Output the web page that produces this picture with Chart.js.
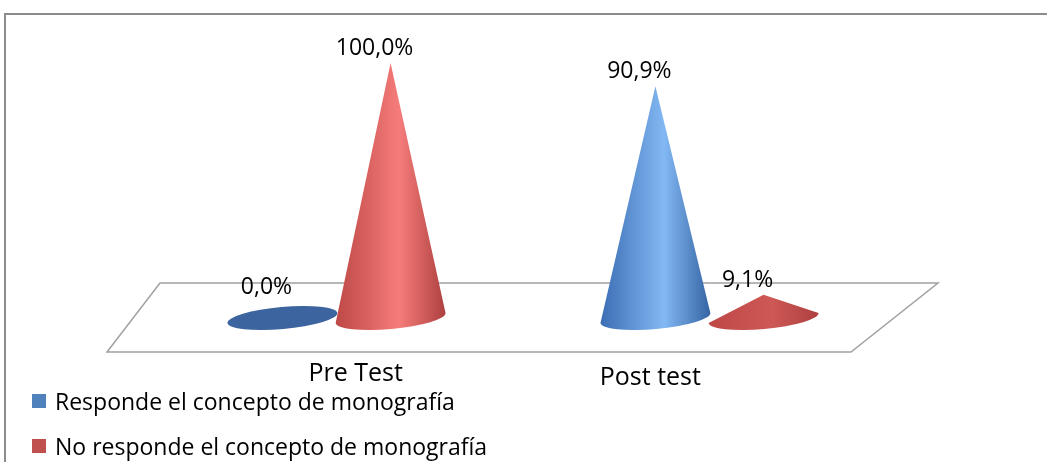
<!DOCTYPE html>
<html>
<head>
<meta charset="utf-8">
<script src="https://cdn.jsdelivr.net/npm/chart.js@4.4.0/dist/chart.umd.min.js"></script>
<style>
  body { margin: 0; background: #fff; }
  canvas { display: block; }
</style>
</head>
<body>
<canvas id="myChart" width="1047" height="462"></canvas>
<script>
// datos
const categorias = ['Pre Test', 'Post test'];
const responde = [0, 90.9];
const noResponde = [100, 9.1];
const series = ['Responde el concepto de monografía', 'No responde el concepto de monografía'];
const colores = ['#4f81bd', '#c0504d'];

// tonos de los conos: borde izq, brillo, borde der, base plana, brillo apagado
const tonos = [
  ['#3b6db3', '#82b8f3', '#3463a3', '#3c649e', '#4a78b5'],
  ['#bd4846', '#f57c7a', '#ad403f', '#b84745', '#cd5855']
];
const fuente = '"Open Sans", sans-serif';
const giro = -0.09; // inclinacion de las bases

function formato(v) {
  return v.toFixed(1).replace('.', ',') + '%';
}

function cono(ctx, cx, top, base, w, t, alto) {
  const rx = w / 2, ry = w * 0.1;
  if (base - top < 1) {
    ctx.fillStyle = t[3];
    ctx.beginPath();
    ctx.ellipse(cx, base, rx, ry, giro, 0, Math.PI * 2);
    ctx.fill();
    return;
  }
  const g = ctx.createLinearGradient(cx - rx, 0, cx + rx, 0);
  g.addColorStop(0, t[0]);
  g.addColorStop(0.58, (base - top) > alto * 0.3 ? t[1] : t[4]);
  g.addColorStop(1, t[2]);
  ctx.fillStyle = g;
  ctx.beginPath();
  ctx.moveTo(cx, top);
  ctx.lineTo(cx - rx * Math.cos(giro), base - rx * Math.sin(giro));
  ctx.ellipse(cx, base, rx, ry, giro, Math.PI, 0, true);
  ctx.closePath();
  ctx.fill();
}

const conos = {
  id: 'conos',
  beforeDraw(chart) {
    const ctx = chart.ctx;
    ctx.save();
    ctx.strokeStyle = '#8c8c8c';
    ctx.lineWidth = 2;
    ctx.beginPath();
    ctx.moveTo(5, chart.height);
    ctx.lineTo(5, 14);
    ctx.lineTo(chart.width, 14);
    ctx.stroke();
    ctx.restore();
  },
  beforeDatasetsDraw(chart) {
    // piso en perspectiva
    const a = chart.chartArea;
    const ctx = chart.ctx;
    ctx.save();
    ctx.strokeStyle = '#a0a0a0';
    ctx.lineWidth = 1.5;
    ctx.fillStyle = '#ffffff';
    ctx.beginPath();
    ctx.moveTo(a.left + 10, a.bottom - 35);
    ctx.lineTo(a.right + 42, a.bottom - 35);
    ctx.lineTo(a.right - 45, a.bottom + 34);
    ctx.lineTo(a.left - 43, a.bottom + 34);
    ctx.closePath();
    ctx.fill();
    ctx.stroke();
    ctx.restore();
  },
  afterDatasetsDraw(chart) {
    const ctx = chart.ctx;
    const a = chart.chartArea;
    const x = chart.scales.x;
    ctx.save();
    chart.data.datasets.forEach((ds, d) => {
      const meta = chart.getDatasetMeta(d);
      meta.data.forEach((bar, i) => {
        cono(ctx, bar.x, bar.y, bar.base, bar.width * 1.02, tonos[d], a.bottom - a.top);
      });
    });
    // etiquetas de valores
    ctx.font = '23px ' + fuente;
    ctx.fillStyle = '#000';
    ctx.textAlign = 'center';
    ctx.textBaseline = 'bottom';
    chart.data.datasets.forEach((ds, d) => {
      const meta = chart.getDatasetMeta(d);
      meta.data.forEach((bar, i) => {
        const ry = bar.width * 0.1;
        const y = Math.min(bar.y - 3, bar.base - ry - 8);
        ctx.fillText(formato(ds.data[i]), bar.x - 16, y);
      });
    });
    // categorias sobre el borde frontal del piso
    ctx.font = '25px ' + fuente;
    const mid = (a.left + a.right) / 2;
    categorias.forEach((c, i) => {
      const cx = x.getPixelForValue(i);
      const lx = mid - 20 + (cx - mid) * 0.79;
      ctx.fillText(c, lx, a.bottom + 68 + i * 4);
    });
    // leyenda
    ctx.font = '23px ' + fuente;
    ctx.textAlign = 'left';
    ctx.textBaseline = 'alphabetic';
    series.forEach((s, d) => {
      const y = 410 + d * 45;
      ctx.fillStyle = colores[d];
      ctx.fillRect(32, y - 16, 14, 14);
      ctx.fillStyle = '#000';
      ctx.fillText(s, 55, y);
    });
    ctx.restore();
  }
};

const myChart = document.getElementById('myChart');
new Chart(myChart, {
  type: 'bar',
  data: {
    labels: categorias,
    datasets: [
      { label: series[0], data: responde, backgroundColor: 'rgba(0,0,0,0)' },
      { label: series[1], data: noResponde, backgroundColor: 'rgba(0,0,0,0)' }
    ]
  },
  options: {
    responsive: false,
    animation: false,
    events: [],
    layout: { padding: { left: 150, right: 151, top: 63, bottom: 144 } },
    categoryPercentage: 0.58,
    barPercentage: 1,
    scales: {
      x: { display: false },
      y: { display: false, min: 0, max: 100 }
    },
    plugins: {
      legend: { display: false },
      tooltip: { enabled: false }
    }
  },
  plugins: [conos]
});
</script>
</body>
</html>
